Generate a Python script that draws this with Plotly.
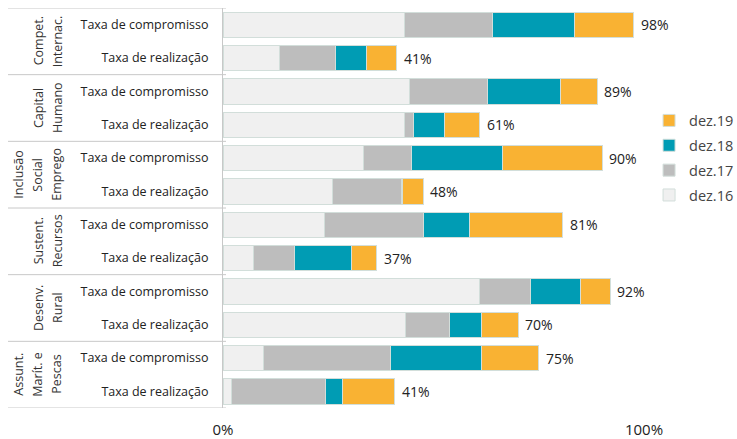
import plotly.graph_objects as go

# ---------------- data ----------------
groups = ["Compet.|Internac.", "Capital|Humano", "Inclusão|Social|Emprego",
          "Sustent.|Recursos", "Desenv.|Rural", "Assunt.|Marít. e|Pescas"]
row_labels = ["Taxa de compromisso", "Taxa de realização"] * 6
series_names = ["dez.16", "dez.17", "dez.18", "dez.19"]
dez16 = [43.2, 13.4, 44.3, 43.2, 33.4, 26.0, 24.0, 7.3, 61.0, 43.4, 9.7, 2.1]
dez17 = [20.9, 13.4, 18.6, 2.1, 11.4, 16.4, 23.7, 9.7, 12.0, 10.4, 30.1, 22.2]
dez18 = [19.3, 7.3, 17.2, 7.2, 21.7, 0.3, 10.9, 13.6, 12.0, 7.5, 21.5, 4.0]
dez19 = [14.2, 7.2, 8.8, 8.5, 23.6, 4.9, 22.1, 5.9, 7.0, 8.8, 13.7, 12.5]
total_labels = ["98%", "41%", "89%", "61%", "90%", "48%", "81%", "37%", "92%", "70%", "75%", "41%"]
x_ticks = [0, 100]
x_ticktext = ["0%", "100%"]

colors = ["#F0F0F0", "#BDBDBD", "#009CB4", "#F9B233"]
FONT = "Open Sans"

W, H = 737, 439
ML, MR, MT, MB = 223, 93, 8, 31
PW = W - ML - MR
PH = H - MT - MB

rows = list(range(len(row_labels)))

fig = go.Figure()
n_series = len(series_names)
for k, (name, vals, col) in enumerate(zip(series_names, [dez16, dez17, dez18, dez19], colors)):
    fig.add_trace(go.Bar(
        y=rows, x=vals, orientation="h", name=name,
        marker=dict(color=col, line=dict(color="#D2DEDA", width=1)),
        width=0.76, legendgroup=name, legendrank=1000 + (n_series - k),
        hoverinfo="x+name",
    ))

totals = [a + b + c + d for a, b, c, d in zip(dez16, dez17, dez18, dez19)]
annotations = []
for r, (t, lab) in enumerate(zip(totals, total_labels)):
    annotations.append(dict(x=t, y=r, xref="x", yref="y", text=lab, showarrow=False,
                            xanchor="left", yanchor="middle", xshift=5,
                            font=dict(family=FONT, size=14, color="#222")))

def px_to_paper_x(px):
    return (px - ML) / PW

shapes = []
# group labels and dividers
for g, glabel in enumerate(groups):
    lines = glabel.split("|")
    n = len(lines)
    yc = 2 * g + 0.5
    for i, ln in enumerate(lines):
        xpix = 57 - (n - 1 - i) * 19
        annotations.append(dict(x=px_to_paper_x(xpix), y=yc, xref="paper", yref="y",
                                text=ln, showarrow=False, textangle=-90,
                                xanchor="center", yanchor="middle",
                                font=dict(family=FONT, size=12.5, color="#333")))
for b in range(len(groups) + 1):
    yb = 2 * b - 0.5
    shapes.append(dict(type="line", xref="paper", yref="y",
                       x0=px_to_paper_x(8), x1=px_to_paper_x(226), y0=yb, y1=yb,
                       line=dict(color="#C8C8C8", width=1)))

fig.update_layout(
    width=W, height=H,
    margin=dict(l=ML, r=MR, t=MT, b=MB, autoexpand=False),
    barmode="stack",
    plot_bgcolor="white", paper_bgcolor="white",
    font=dict(family=FONT, color="#222"),
    xaxis=dict(range=[0, 100], tickvals=x_ticks, ticktext=x_ticktext,
               showgrid=True, gridcolor="#C8C8C8", gridwidth=1, zeroline=False,
               ticks="outside", ticklen=8, tickcolor="rgba(0,0,0,0)",
               tickfont=dict(family=FONT, size=15, color="#222"), fixedrange=True),
    yaxis=dict(range=[11.5, -0.5], tickvals=rows, ticktext=row_labels,
               showline=True, linecolor="#C8C8C8", linewidth=1, showgrid=False,
               zeroline=False, ticks="outside", ticklen=11, tickcolor="rgba(0,0,0,0)",
               tickfont=dict(family=FONT, size=12.5, color="#222"), fixedrange=True),
    legend=dict(x=1.012, xanchor="left", y=0.625, yanchor="middle",
                traceorder="grouped", tracegroupgap=3,
                font=dict(family=FONT, size=14.5, color="#444"),
                bgcolor="rgba(0,0,0,0)"),
    annotations=annotations,
    shapes=shapes,
)

fig.write_html("out.html")
